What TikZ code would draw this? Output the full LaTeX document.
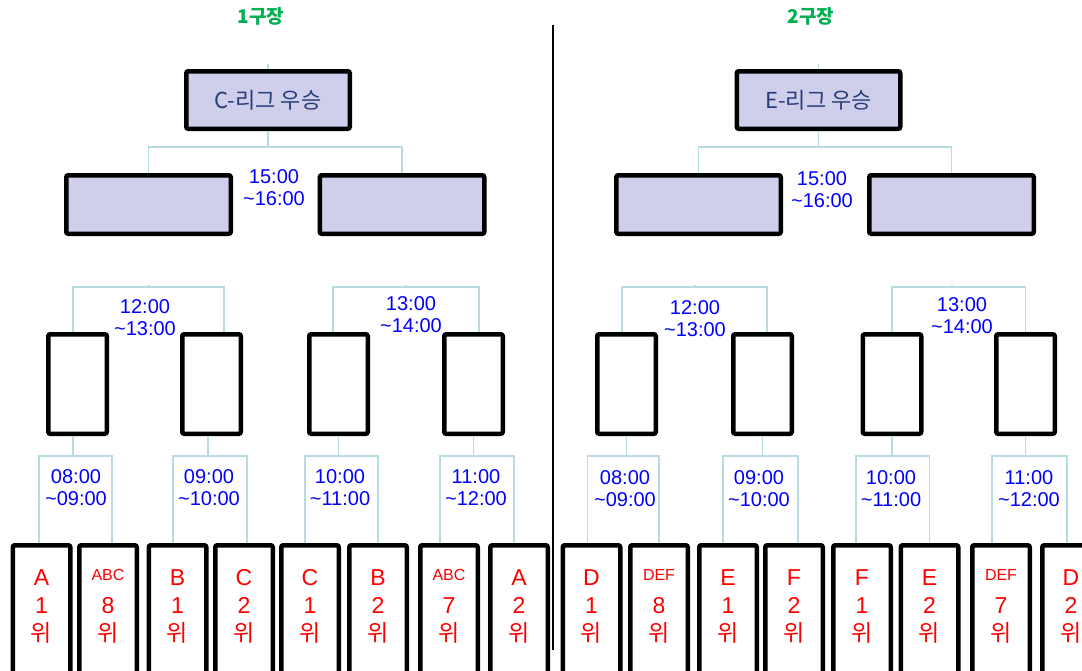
\documentclass[tikz,border=0pt]{standalone}
\usepackage{fontspec}
\setmainfont{Liberation Sans}
\newfontfamily\kr{Noto Sans CJK KR}
\definecolor{boxfill}{RGB}{207,207,236}
\definecolor{linkcol}{RGB}{183,221,226}
\definecolor{navy}{RGB}{40,60,120}
\definecolor{fieldgreen}{RGB}{0,176,80}
\newcommand{\leafrank}[2]{\rule{0pt}{17pt}#1\\#2\\{\kr 위}}
\newcommand{\teamgrp}[1]{\raisebox{5pt}{\fontsize{16}{16}\selectfont #1}}

\begin{document}
\begin{tikzpicture}[x=1pt,y=-1pt,
    box/.style={draw,line width=4.5pt,rounded corners=2pt,inner sep=0pt},
    final/.style={box,fill=boxfill,minimum width=163.5pt,minimum height=57.5pt,
        text=navy,font=\kr\fontsize{22}{24}\selectfont},
    semi/.style={box,fill=boxfill,minimum width=164.5pt,minimum height=58.5pt},
    quarter/.style={box,fill=white,minimum width=58.5pt,minimum height=99.5pt},
    leaf/.style={box,fill=white,anchor=north,minimum width=57.5pt,minimum height=160pt},
    leaftext/.style={anchor=north,yshift=-25pt,inner sep=0pt,text=red,align=center,
        font=\fontsize{23}{28}\selectfont},
    slot/.style={text=blue,align=center,font=\fontsize{20}{22}\selectfont},
    link/.style={draw=linkcol,line width=1.5pt},
    field/.style={text=fieldgreen,font=\kr\bfseries\fontsize{19}{20}\selectfont}]
    \path[use as bounding box,clip] (0,0) rectangle (1082,670);

    % fields
    \node[field] (f1) at (261,16) {1구장};
    \node[field] (f2) at (811,16) {2구장};
    \draw[line width=1.5pt] (553,25) -- (553,650);

    % finals
    \node[final] (c) at (268,100) {C-리그 우승};
    \node[final] (e) at (818.5,100) {E-리그 우승};

    \node[semi] (c1) at (148.5,204.5) {};
    \node[semi] (c2) at (402,204.5) {};
    \node[semi] (e1) at (698.5,204.5) {};
    \node[semi] (e2) at (951.5,204.5) {};

    \node[quarter] (cq1) at (77.5,384) {};
    \node[quarter] (cq2) at (211.5,384) {};
    \node[quarter] (cq3) at (338.5,384) {};
    \node[quarter] (cq4) at (473.5,384) {};
    \node[quarter] (eq1) at (626.5,384) {};
    \node[quarter] (eq2) at (762.5,384) {};
    \node[quarter] (eq3) at (892,384) {};
    \node[quarter] (eq4) at (1025.5,384) {};

    % league ranks
    \node[leaf,label={[leaftext]north:{\leafrank{A}{1}}}] (l1) at (41.5,543) {};
    \node[leaf,label={[leaftext]north:{\leafrank{\teamgrp{ABC}}{8}}}] (l2) at (108,543) {};
    \node[leaf,label={[leaftext]north:{\leafrank{B}{1}}}] (l3) at (177.5,543) {};
    \node[leaf,label={[leaftext]north:{\leafrank{C}{2}}}] (l4) at (244,543) {};
    \node[leaf,label={[leaftext]north:{\leafrank{C}{1}}}] (l5) at (310,543) {};
    \node[leaf,label={[leaftext]north:{\leafrank{B}{2}}}] (l6) at (378,543) {};
    \node[leaf,label={[leaftext]north:{\leafrank{\teamgrp{ABC}}{7}}}] (l7) at (449,543) {};
    \node[leaf,label={[leaftext]north:{\leafrank{A}{2}}}] (l8) at (519,543) {};
    \node[leaf,label={[leaftext]north:{\leafrank{D}{1}}}] (l9) at (591.5,543) {};
    \node[leaf,label={[leaftext]north:{\leafrank{\teamgrp{DEF}}{8}}}] (l10) at (659,543) {};
    \node[leaf,label={[leaftext]north:{\leafrank{E}{1}}}] (l11) at (728,543) {};
    \node[leaf,label={[leaftext]north:{\leafrank{F}{2}}}] (l12) at (794,543) {};
    \node[leaf,label={[leaftext]north:{\leafrank{F}{1}}}] (l13) at (862,543) {};
    \node[leaf,label={[leaftext]north:{\leafrank{E}{2}}}] (l14) at (929.5,543) {};
    \node[leaf,label={[leaftext]north:{\leafrank{\teamgrp{DEF}}{7}}}] (l15) at (1001,543) {};
    \node[leaf,label={[leaftext]north:{\leafrank{D}{2}}}] (l16) at (1071,543) {};

    % brackets
    \draw[link] (c.north) -- ++(0,-5);
    \draw[link] (c.south) -- ++(0,16) coordinate (cj);
    \draw[link] (c1.north) |- (cj) -| (c2.north);
    \draw[link] (e.north) -- ++(0,-5);
    \draw[link] (e.south) -- ++(0,16) coordinate (ej);
    \draw[link] (e1.north) |- (ej) -| (e2.north);

    \coordinate (cm1) at (149,287);
    \coordinate (cm2) at (406,287);
    \coordinate (em1) at (695,287);
    \coordinate (em2) at (952,287);
    \draw[link] ([xshift=-4.5pt]cq1.north) |- (cm1) -| ([xshift=12.5pt]cq2.north);
    \draw[link] ([xshift=-5.5pt]cq3.north) |- (cm2) -| ([xshift=5.5pt]cq4.north);
    \draw[link] ([xshift=-4.5pt]eq1.north) |- (em1) -| ([xshift=4.5pt]eq2.north);
    \draw[link] (eq3.north) |- (em2) -| (eq4.north);
    \draw[link] (cm1) -- ++(0,-2);
    \draw[link] (cm2) -- ++(0,-2);
    \draw[link] (em1) -- ++(0,-2);
    \draw[link] (em2) -- ++(0,-2);

    \draw[link] ([xshift=-4.5pt]cq1.south) -- ++(0,20) coordinate (cj1);
    \draw[link] ([xshift=-3.5pt]cq2.south) -- ++(0,20) coordinate (cj2);
    \draw[link] (cq3.south) -- ++(0,20) coordinate (cj3);
    \draw[link] (cq4.south) -- ++(0,20) coordinate (cj4);
    \draw[link] (eq1.south) -- ++(0,20) coordinate (ej1);
    \draw[link] (eq2.south) -- ++(0,20) coordinate (ej2);
    \draw[link] (eq3.south) -- ++(0,20) coordinate (ej3);
    \draw[link] (eq4.south) -- ++(0,20) coordinate (ej4);
    \draw[link] ([xshift=-2.5pt]l1.north) |- (cj1) -| ([xshift=4pt]l2.north);
    \draw[link] ([xshift=-4.5pt]l3.north) |- (cj2) -| ([xshift=3pt]l4.north);
    \draw[link] ([xshift=-5pt]l5.north) |- (cj3) -| (l6.north);
    \draw[link] ([xshift=-9pt]l7.north) |- (cj4) -| ([xshift=-5pt]l8.north);
    \draw[link] ([xshift=-4pt]l9.north) |- (ej1) -| (l10.north);
    \draw[link] ([xshift=-5pt]l11.north) |- (ej2) -| ([xshift=4pt]l12.north);
    \draw[link] ([xshift=-6pt]l13.north) |- (ej3) -| (l14.north);
    \draw[link] ([xshift=-9pt]l15.north) |- (ej4) -| ([xshift=-4pt]l16.north);

    % times
    \node[slot] (tc) at (274,188) {15:00\\\textasciitilde16:00};
    \node[slot] (te) at (822,190) {15:00\\\textasciitilde16:00};
    \node[slot] (tc1) at (145,318) {12:00\\\textasciitilde13:00};
    \node[slot] (tc2) at (411,315) {13:00\\\textasciitilde14:00};
    \node[slot] (te1) at (695,319) {12:00\\\textasciitilde13:00};
    \node[slot] (te2) at (962,316) {13:00\\\textasciitilde14:00};
    \node[slot] (t1) at (76,488) {08:00\\\textasciitilde09:00};
    \node[slot] (t2) at (209,488) {09:00\\\textasciitilde10:00};
    \node[slot] (t3) at (340,488) {10:00\\\textasciitilde11:00};
    \node[slot] (t4) at (476,488) {11:00\\\textasciitilde12:00};
    \node[slot] (t5) at (625,489) {08:00\\\textasciitilde09:00};
    \node[slot] (t6) at (759,489) {09:00\\\textasciitilde10:00};
    \node[slot] (t7) at (891,489) {10:00\\\textasciitilde11:00};
    \node[slot] (t8) at (1029,489) {11:00\\\textasciitilde12:00};
\end{tikzpicture}
\end{document}
